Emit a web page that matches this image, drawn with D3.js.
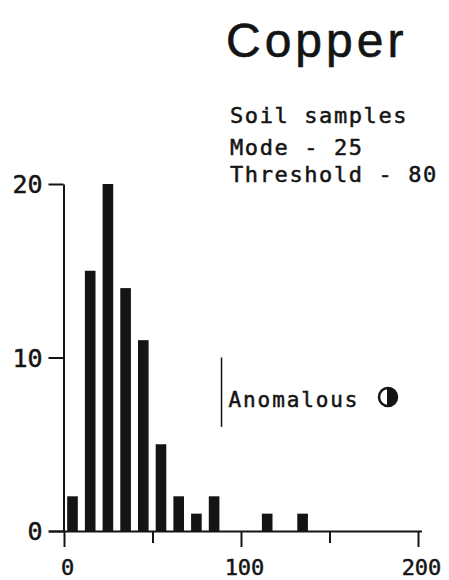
<!DOCTYPE html>
<html><head><meta charset="utf-8">
<script src="https://cdn.jsdelivr.net/npm/d3@7"></script>
<style>
html,body{margin:0;padding:0;background:#fff;}
svg{display:block;}
</style>
</head><body>
<div id="chart"></div>
<script>
// Data
const binStarts = [0, 10, 20, 30, 40, 50, 60, 70, 80, 110, 130];
const counts    = [2, 15, 20, 14, 11, 5, 2, 1, 2, 1, 1];
const binWidth = 10;
const yTicks = [0, 10, 20];
const xTicks = [0, 50, 100, 150, 200];
const xLabelTicks = [0, 100, 200];
const title = "Copper";
const infoLines = ["Soil samples", "Mode - 25", "Threshold - 80"];
const anomalyX = 89;
const anomalyYRange = [6, 10];
const anomalyLabel = "Anomalous";

const W = 449, H = 580;
const svg = d3.select("#chart").append("svg").attr("width", W).attr("height", H);

const x = d3.scaleLinear().domain([0, 200]).range([64, 418]);
const y = d3.scaleLinear().domain([0, 20]).range([531, 184]);
const mono = "'DejaVu Sans Mono', monospace";
const ink = "#141414";

// Bars
svg.append("g").selectAll("rect").data(binStarts).join("rect")
  .attr("x", (d) => x(d + 1.8))
  .attr("width", x(6) - x(0))
  .attr("y", (d, i) => y(counts[i]))
  .attr("height", (d, i) => y(0) - y(counts[i]))
  .attr("fill", ink);

// Y axis
const yAxis = svg.append("g").attr("transform", "translate(63.5,0)")
  .call(d3.axisLeft(y).tickValues(yTicks).tickSize(15).tickSizeOuter(0).tickFormat(d3.format("d")));
yAxis.select(".domain").attr("stroke", ink).attr("stroke-width", 2);
yAxis.selectAll(".tick line").attr("stroke", ink).attr("stroke-width", 2);
yAxis.selectAll(".tick text").attr("font-family", mono).attr("font-size", 25)
  .attr("fill", ink).attr("stroke", ink).attr("stroke-width", 0.5)
  .attr("x", -21).attr("dy", "0.35em");

// X axis
const xAxis = svg.append("g").attr("transform", "translate(0,531)")
  .call(d3.axisBottom(x).tickValues(xTicks).tickSize(16).tickSizeOuter(0)
    .tickFormat(d => xLabelTicks.includes(d) ? d3.format("d")(d) : ""));
xAxis.select(".domain").attr("stroke", ink).attr("stroke-width", 2)
  .attr("d", `M${x(0) - 15},0.5H${x(200) + 4}`);
xAxis.selectAll(".tick line").attr("stroke", ink).attr("stroke-width", 2)
  .attr("y2", d => xLabelTicks.includes(d) ? 16 : 12);
xAxis.selectAll(".tick text").attr("font-family", mono).attr("font-size", 22)
  .attr("fill", ink).attr("stroke", ink).attr("stroke-width", 0.5)
  .attr("y", 28).attr("dy", "0.71em").attr("dx", 3);

// Title
svg.append("text").attr("x", 226).attr("y", 57).text(title)
  .attr("font-family", "'Liberation Sans', Arial, sans-serif")
  .attr("font-size", 48).attr("letter-spacing", 4).attr("fill", ink)
  .attr("stroke", ink).attr("stroke-width", 0.6);

// Info lines
const infoBaselines = [123, 155, 182];
svg.append("g").selectAll("text").data(infoLines).join("text")
  .attr("x", 230).attr("y", (d, i) => infoBaselines[i])
  .text(d => d)
  .attr("font-family", mono).attr("font-size", 22).attr("letter-spacing", 1.6)
  .attr("fill", ink).attr("stroke", ink).attr("stroke-width", 0.5);

// Anomaly marker line
svg.append("line")
  .attr("x1", x(anomalyX)).attr("x2", x(anomalyX))
  .attr("y1", y(anomalyYRange[1])).attr("y2", y(anomalyYRange[0]))
  .attr("stroke", ink).attr("stroke-width", 1.5);

svg.append("text").attr("x", x(anomalyX) + 7).attr("y", 407).text(anomalyLabel)
  .attr("font-family", mono).attr("font-size", 21).attr("letter-spacing", 1.9)
  .attr("fill", ink).attr("stroke", ink).attr("stroke-width", 0.5);

// Half-filled circle symbol
const cx = 388, cy = 397, r = 9;
svg.append("circle").attr("cx", cx).attr("cy", cy).attr("r", r)
  .attr("fill", "#fff").attr("stroke", ink).attr("stroke-width", 2.5);
svg.append("path")
  .attr("d", d3.arc()({innerRadius: 0, outerRadius: r + 1, startAngle: 0, endAngle: Math.PI}))
  .attr("transform", `translate(${cx - 1},${cy})`)
  .attr("fill", ink);
</script>
</body></html>
